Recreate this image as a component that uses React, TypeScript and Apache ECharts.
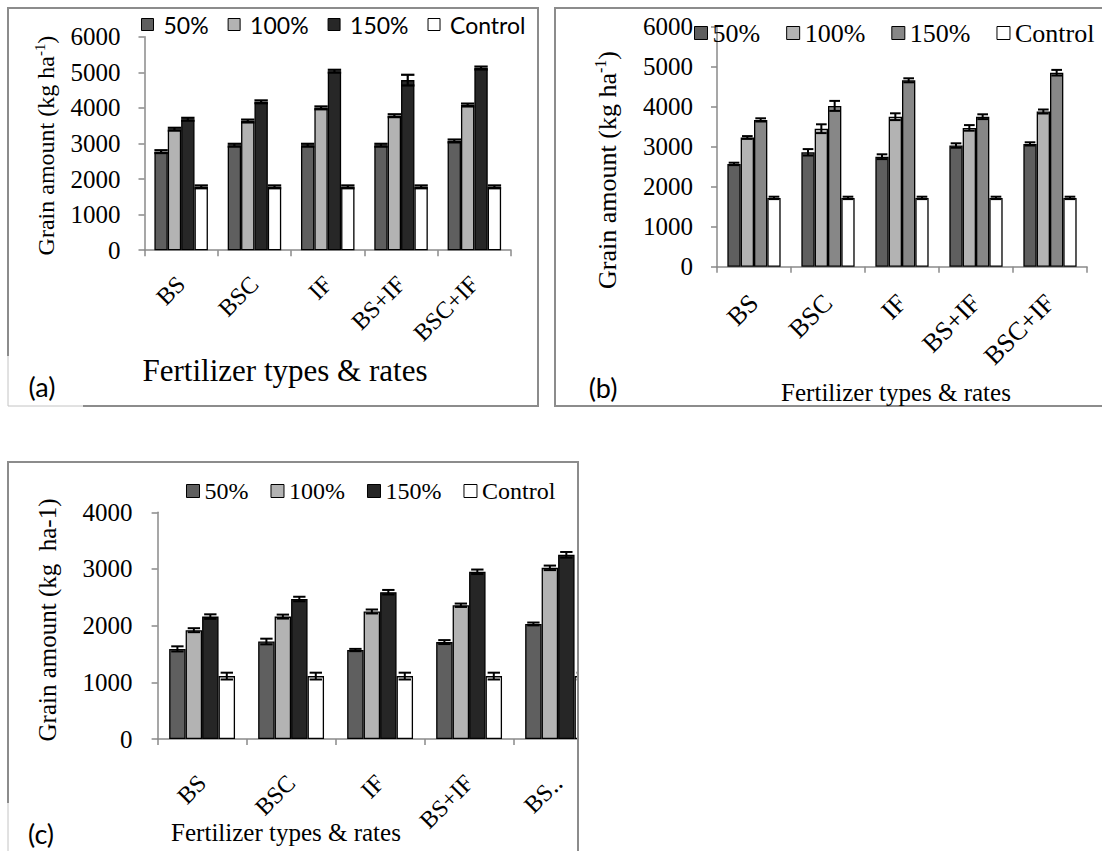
import React, { useEffect, useRef } from 'react';
import * as echarts from 'echarts';

// ---------- data ----------
const categoriesAB = ['BS', 'BSC', 'IF', 'BS+IF', 'BSC+IF'];
const categoriesC = ['BS', 'BSC', 'IF', 'BS+IF', 'BS‥'];
const seriesNames = ['50%', '100%', '150%', 'Control'];

// panel (a)
const a50 = [2770, 2950, 2950, 2950, 3070];
const a100 = [3400, 3630, 4000, 3780, 4080];
const a150 = [3680, 4170, 5030, 4780, 5120];
const aCtrl = [1780, 1780, 1780, 1780, 1780];
const a50Err = [40, 40, 40, 40, 40];
const a100Err = [40, 40, 40, 40, 40];
const a150Err = [40, 40, 40, 150, 40];
const aCtrlErr = [40, 40, 40, 40, 40];

// panel (b)
const b50 = [2570, 2860, 2750, 3030, 3070];
const b100 = [3230, 3450, 3750, 3470, 3880];
const b150 = [3670, 4020, 4660, 3750, 4850];
const bCtrl = [1720, 1720, 1720, 1720, 1720];
const b50Err = [30, 80, 60, 55, 40];
const b100Err = [35, 110, 85, 70, 50];
const b150Err = [40, 125, 50, 60, 70];
const bCtrlErr = [30, 30, 30, 30, 30];

// panel (c)
const c50 = [1590, 1720, 1570, 1710, 2030];
const c100 = [1920, 2160, 2250, 2360, 3020];
const c150 = [2160, 2470, 2590, 2950, 3250];
const cCtrl = [1110, 1110, 1110, 1110, 1110];
const c50Err = [45, 50, 20, 35, 25];
const c100Err = [35, 35, 35, 30, 40];
const c150Err = [40, 40, 40, 40, 50];
const cCtrlErr = [60, 60, 60, 60, 60];

const yTicksAB = { min: 0, max: 6000, interval: 1000 };
const yTicksC = { min: 0, max: 4000, interval: 1000 };

// ---------- styles ----------
const SERIF = 'Liberation Serif';
const SANS = 'Lato';
const FRAME = '#8c8c8c';
const AXIS = '#8a8a8a';
const colorsA = ['#5f5f5f', '#b3b3b3', '#272727', '#ffffff'];
const colorsB = ['#5f5f5f', '#b3b3b3', '#878787', '#ffffff'];
const colorsC = ['#5f5f5f', '#b3b3b3', '#262626', '#ffffff'];

function barSeries(idx: number, values: number[][], colors: string[], gap: number) {
  return values.map((vals, s) => ({
    type: 'bar',
    name: seriesNames[s],
    xAxisIndex: idx,
    yAxisIndex: idx,
    data: vals,
    barGap: '0%',
    barCategoryGap: `${gap * 100}%`,
    itemStyle: { color: colors[s], borderColor: '#000', borderWidth: 1.3 },
    emphasis: { disabled: true },
    silent: true,
    z: 2,
  }));
}

function errSeries(idx: number, values: number[][], errs: number[][], gap: number, capFrac: number, lw: number) {
  const data: number[][] = [];
  values.forEach((arr, s) => arr.forEach((v, c) => data.push([c, v, errs[s][c], s])));
  return {
    type: 'custom',
    xAxisIndex: idx,
    yAxisIndex: idx,
    data,
    encode: { x: 0, y: 1 },
    silent: true,
    z: 5,
    renderItem: (_params: any, api: any) => {
      const c = api.value(0);
      const v = api.value(1);
      const e = api.value(2);
      const s = api.value(3);
      const band = api.size([1, 0])[0];
      const bw = (band * (1 - gap)) / 4;
      const x = api.coord([c, v])[0] - 2 * bw + (s + 0.5) * bw;
      const yT = api.coord([c, v + e])[1];
      const yB = api.coord([c, v - e])[1];
      const hw = (bw * capFrac) / 2;
      const st = { stroke: '#000', lineWidth: lw };
      return {
        type: 'group',
        children: [
          { type: 'line', shape: { x1: x, y1: yT, x2: x, y2: yB }, style: st },
          { type: 'line', shape: { x1: x - hw, y1: yT, x2: x + hw, y2: yT }, style: st },
          { type: 'line', shape: { x1: x - hw, y1: yB, x2: x + hw, y2: yB }, style: st },
        ],
      };
    },
  };
}

function xAxis(idx: number, data: string[], fontSize: number, margin: number) {
  return {
    type: 'category',
    gridIndex: idx,
    data,
    axisLine: { show: true, lineStyle: { color: AXIS, width: 1.5 } },
    axisTick: { show: true, length: 6, lineStyle: { color: AXIS, width: 1.5 } },
    axisLabel: { interval: 0, rotate: 45, fontFamily: SERIF, fontSize, color: '#000', margin },
    splitLine: { show: false },
  };
}

function yAxis(idx: number, ticks: { min: number; max: number; interval: number }, fontSize: number, margin: number) {
  return {
    type: 'value',
    gridIndex: idx,
    ...ticks,
    axisLine: { show: true, lineStyle: { color: AXIS, width: 1.5 } },
    axisTick: { show: true, length: 6, lineStyle: { color: AXIS, width: 1.5 } },
    axisLabel: {
      fontFamily: SERIF,
      fontSize,
      color: '#000',
      margin,
      formatter: (v: number) => String(v),
    },
    splitLine: { show: false },
  };
}

function legend(left: number, top: number, colors: string[], size: number, gap: number, font: string, fontSize: number, textPad: number) {
  return {
    left,
    top,
    padding: 0,
    width: 520,
    orient: 'horizontal',
    icon: 'rect',
    itemWidth: size,
    itemHeight: size,
    itemGap: gap,
    selectedMode: false,
    data: seriesNames.map((n, i) => ({
      name: n,
      itemStyle: { color: colors[i], borderColor: '#000', borderWidth: 1 },
    })),
    textStyle: { fontFamily: font, fontSize, color: '#000', padding: [0, 0, 0, textPad] },
  };
}

function text(x: number, y: number, t: string, font: string, size: number, extra: any = {}) {
  return {
    type: 'text',
    x,
    y,
    z: 100,
    silent: true,
    ...extra,
    style: {
      text: t,
      fontFamily: font,
      fontSize: size,
      fill: '#000',
      align: 'center',
      verticalAlign: 'middle',
      textAlign: 'center',
      textVerticalAlign: 'middle',
    },
  };
}

function yTitleSup(x: number, y: number, size: number) {
  return {
    type: 'text',
    x,
    y,
    z: 100,
    rotation: Math.PI / 2,
    silent: true,
    style: {
      text: '{t|Grain amount (kg ha}{s|-1}{t|)}',
      fontFamily: SERIF,
      fontSize: size,
      rich: {
        t: { fontFamily: SERIF, fontSize: size, fill: '#000', lineHeight: size + 4 },
        s: { fontFamily: SERIF, fontSize: Math.round(size * 0.62), fill: '#000', verticalAlign: 'top' },
      },
      align: 'center',
      verticalAlign: 'middle',
      textAlign: 'center',
      textVerticalAlign: 'middle',
    },
  };
}

const frameStyle = { stroke: FRAME, lineWidth: 2, fill: 'none' };
const lightStyle = { stroke: '#c4c4c4', lineWidth: 1, fill: 'none' };

export default function App() {
  const ref = useRef<HTMLDivElement>(null);
  useEffect(() => {
    if (!ref.current) return;
    const chart = echarts.init(ref.current, null, { renderer: 'svg' });
    const gapA = 0.27;
    const gapB = 0.28;
    const gapC = 0.26;
    const option: any = {
      animation: false,
      backgroundColor: '#fff',
      textStyle: { fontFamily: SERIF },
      grid: [
        { left: 144.5, top: 36.7, width: 366.5, height: 213.5 },
        { left: 717, top: 26.7, width: 370, height: 240 },
        { left: 157.6, top: 512.3, width: 445, height: 226.7 },
      ],
      xAxis: [xAxis(0, categoriesAB, 24, 30), xAxis(1, categoriesAB, 26, 32), xAxis(2, categoriesC, 24, 40)],
      yAxis: [yAxis(0, yTicksAB, 25, 24), yAxis(1, yTicksAB, 25, 24), yAxis(2, yTicksC, 25, 25)],
      legend: [
        legend(141, 13, colorsA, 12, 19, SANS, 23, 5),
        legend(694, 20, colorsB, 13, 26, SERIF, 26, 0),
        legend(186, 479, colorsC, 13, 22, SERIF, 24, 0),
      ],
      series: [
        ...barSeries(0, [a50, a100, a150, aCtrl], colorsA, gapA),
        errSeries(0, [a50, a100, a150, aCtrl], [a50Err, a100Err, a150Err, aCtrlErr], gapA, 1.0, 2.2),
        ...barSeries(1, [b50, b100, b150, bCtrl], colorsB, gapB),
        errSeries(1, [b50, b100, b150, bCtrl], [b50Err, b100Err, b150Err, bCtrlErr], gapB, 0.8, 2),
        ...barSeries(2, [c50, c100, c150, cCtrl], colorsC, gapC),
        errSeries(2, [c50, c100, c150, cCtrl], [c50Err, c100Err, c150Err, cCtrlErr], gapC, 0.75, 2),
      ],
      graphic: [
        // cover for clipped part of panel (c)
        { type: 'rect', z: 50, silent: true, shape: { x: 579, y: 440, width: 560, height: 420 }, style: { fill: '#fff' } },
        // frame (a)
        { type: 'polyline', z: 60, silent: true, shape: { points: [[8, 356], [8, 8], [538, 8], [538, 406], [83, 406]] }, style: frameStyle },
        { type: 'polyline', z: 60, silent: true, shape: { points: [[8, 356], [8, 406], [83, 406]] }, style: lightStyle },
        // frame (b)
        { type: 'rect', z: 60, silent: true, shape: { x: 555, y: 8, width: 560, height: 398 }, style: frameStyle },
        // frame (c)
        { type: 'polyline', z: 60, silent: true, shape: { points: [[8, 803], [8, 462], [578, 462], [578, 860]] }, style: frameStyle },
        { type: 'polyline', z: 60, silent: true, shape: { points: [[8, 803], [8, 860]] }, style: lightStyle },
        // panel tags
        text(42, 386, '(a)', SANS, 27),
        text(603, 387, '(b)', SANS, 27),
        text(41, 833, '(c)', SANS, 27),
        // x titles
        text(285, 370, 'Fertilizer types & rates', SERIF, 31),
        text(896, 392, 'Fertilizer types & rates', SERIF, 25),
        text(286, 832, 'Fertilizer types & rates', SERIF, 25),
        // y titles
        yTitleSup(46, 145.5, 24),
        yTitleSup(607, 170, 26),
        text(47, 620, 'Grain amount (kg  ha-1)', SERIF, 25, { rotation: Math.PI / 2 }),
      ],
    };
    chart.setOption(option);
    return () => chart.dispose();
  }, []);
  return <div ref={ref} style={{ position: 'absolute', left: 0, top: 0, width: 1102, height: 851 }} />;
}
